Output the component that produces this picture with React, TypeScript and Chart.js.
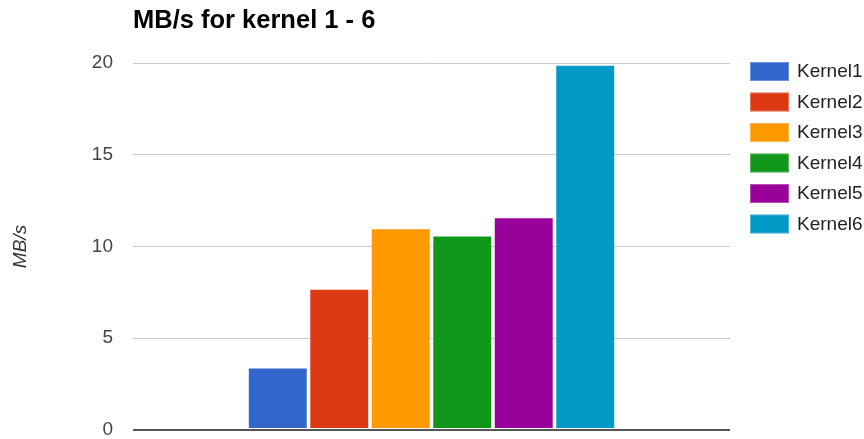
import React, { useEffect, useRef } from "react";
import { Chart, registerables } from "chart.js";

Chart.register(...registerables);

// Throughput per kernel, one bar each
const chartTitle = "MB/s for kernel 1 - 6";
const axisTitle = "MB/s";
const categories = [""];
const kernelNames = ["Kernel1", "Kernel2", "Kernel3", "Kernel4", "Kernel5", "Kernel6"];
const mbPerSecond = [3.4, 7.7, 11.0, 10.6, 11.6, 19.9];
const kernelColors = ["#3366cc", "#dc3912", "#ff9900", "#109618", "#990099", "#0099c6"];
const yMin = 0;
const yMax = 20;
const yStep = 5;

const FONT = '"Liberation Sans", Arial, sans-serif';

// Bold title drawn flush with the left edge of the plot area
const titlePlugin = {
  id: "leftTitle",
  afterDraw(chart: any) {
    const { ctx, chartArea } = chart;
    ctx.save();
    ctx.font = `bold 25.5px ${FONT}`;
    ctx.fillStyle = "#000000";
    ctx.textAlign = "left";
    ctx.textBaseline = "alphabetic";
    ctx.fillText(chartTitle, chartArea.left, 28);
    ctx.restore();
  },
};

// Legend column to the right of the plot, top-aligned with the plot
const sideLegendPlugin = {
  id: "sideLegend",
  afterDraw(chart: any) {
    const { ctx, chartArea } = chart;
    const boxW = 39;
    const boxH = 19;
    const rowGap = 30.5;
    const x0 = chartArea.right + 20;
    const y0 = chartArea.top - 1;
    ctx.save();
    ctx.font = `19px ${FONT}`;
    ctx.textAlign = "left";
    ctx.textBaseline = "middle";
    chart.data.datasets.forEach((ds: any, i: number) => {
      const y = y0 + i * rowGap;
      ctx.fillStyle = ds.backgroundColor;
      ctx.fillRect(x0, y, boxW, boxH);
      ctx.strokeStyle = "rgba(255,255,255,0.3)";
      ctx.lineWidth = 1;
      ctx.strokeRect(x0 + 0.5, y + 0.5, boxW - 1, boxH - 1);
      ctx.fillStyle = "#222222";
      ctx.fillText(ds.label, x0 + 47, y + boxH / 2 + 0.5);
    });
    ctx.restore();
  },
};

export default function App() {
  const canvasRef = useRef<HTMLCanvasElement | null>(null);

  useEffect(() => {
    if (!canvasRef.current) return;
    const chart = new Chart(canvasRef.current, {
      type: "bar",
      data: {
        labels: categories,
        datasets: kernelNames.map((name, i) => ({
          label: name,
          data: [mbPerSecond[i]],
          backgroundColor: kernelColors[i],
          borderColor: "rgba(255,255,255,0.3)",
          borderWidth: 1,
          borderSkipped: false,
          categoryPercentage: 0.618,
          barPercentage: 0.975,
        })),
      },
      options: {
        animation: false,
        responsive: false,
        maintainAspectRatio: false,
        devicePixelRatio: 1,
        layout: {
          padding: { top: 63, right: 134, bottom: 9, left: 0 },
        },
        plugins: {
          legend: { display: false },
          title: { display: false },
          tooltip: { enabled: false },
        },
        scales: {
          x: {
            display: false,
          },
          y: {
            min: yMin,
            max: yMax,
            ticks: {
              stepSize: yStep,
              padding: 0,
              color: "#444444",
              font: { family: FONT, size: 19, lineHeight: 0.9 },
            },
            grid: {
              drawTicks: true,
              tickLength: 20,
              tickColor: "rgba(0,0,0,0)",
              color: (ctx: any) => (ctx.tick && ctx.tick.value === 0 ? "#555555" : "#cccccc"),
              lineWidth: (ctx: any) => (ctx.tick && ctx.tick.value === 0 ? 2 : 1),
            },
            border: { display: false },
            title: {
              display: true,
              text: axisTitle,
              color: "#333333",
              font: { family: FONT, size: 19, style: "italic" },
              padding: { top: 9, bottom: 0 },
            },
            afterFit: (scale: any) => {
              scale.width = 133;
            },
          },
        },
      },
      plugins: [titlePlugin, sideLegendPlugin],
    });
    return () => chart.destroy();
  }, []);

  return (
    <div
      style={{
        position: "fixed",
        left: 0,
        top: 0,
        width: 864,
        height: 439,
        background: "#ffffff",
      }}
    >
      <canvas ref={canvasRef} width={864} height={439} style={{ display: "block" }} />
    </div>
  );
}
